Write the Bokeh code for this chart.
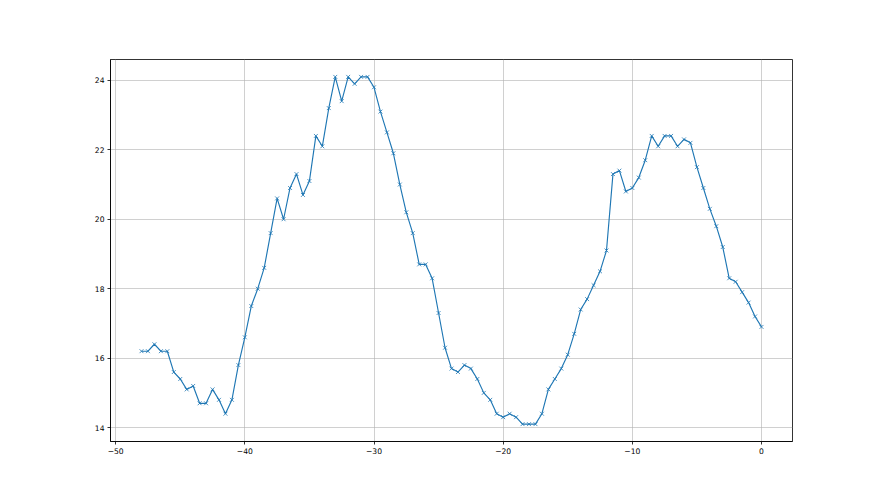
from bokeh.plotting import figure
from bokeh.models import FixedTicker, Range1d
from bokeh.embed import file_html
from bokeh.resources import INLINE

x_values = [-48.0, -47.5, -47.0, -46.5, -46.0, -45.5, -45.0, -44.5, -44.0, -43.5,
            -43.0, -42.5, -42.0, -41.5, -41.0, -40.5, -40.0, -39.5, -39.0, -38.5,
            -38.0, -37.5, -37.0, -36.5, -36.0, -35.5, -35.0, -34.5, -34.0, -33.5,
            -33.0, -32.5, -32.0, -31.5, -31.0, -30.5, -30.0, -29.5, -29.0, -28.5,
            -28.0, -27.5, -27.0, -26.5, -26.0, -25.5, -25.0, -24.5, -24.0, -23.5,
            -23.0, -22.5, -22.0, -21.5, -21.0, -20.5, -20.0, -19.5, -19.0, -18.5,
            -18.0, -17.5, -17.0, -16.5, -16.0, -15.5, -15.0, -14.5, -14.0, -13.5,
            -13.0, -12.5, -12.0, -11.5, -11.0, -10.5, -10.0, -9.5, -9.0, -8.5,
            -8.0, -7.5, -7.0, -6.5, -6.0, -5.5, -5.0, -4.5, -4.0, -3.5,
            -3.0, -2.5, -2.0, -1.5, -1.0, -0.5, 0.0]

y_values = [16.2, 16.2, 16.4, 16.2, 16.2, 15.6, 15.4, 15.1, 15.2, 14.7,
            14.7, 15.1, 14.8, 14.4, 14.8, 15.8, 16.6, 17.5, 18.0, 18.6,
            19.6, 20.6, 20.0, 20.9, 21.3, 20.7, 21.1, 22.4, 22.1, 23.2,
            24.1, 23.4, 24.1, 23.9, 24.1, 24.1, 23.8, 23.1, 22.5, 21.9,
            21.0, 20.2, 19.6, 18.7, 18.7, 18.3, 17.3, 16.3, 15.7, 15.6,
            15.8, 15.7, 15.4, 15.0, 14.8, 14.4, 14.3, 14.4, 14.3, 14.1,
            14.1, 14.1, 14.4, 15.1, 15.4, 15.7, 16.1, 16.7, 17.4, 17.7,
            18.1, 18.5, 19.1, 21.3, 21.4, 20.8, 20.9, 21.2, 21.7, 22.4,
            22.1, 22.4, 22.4, 22.1, 22.3, 22.2, 21.5, 20.9, 20.3, 19.8,
            19.2, 18.3, 18.2, 17.9, 17.6, 17.2, 16.9]

x_ticks = [-50, -40, -30, -20, -10, 0]
y_ticks = [14, 16, 18, 20, 22, 24]

color = "#1f77b4"

p = figure(width=880, height=495, output_backend="svg", toolbar_location=None,
           x_range=Range1d(-50.4, 2.4), y_range=Range1d(13.6, 24.6),
           min_border_left=110, min_border_right=88, min_border_top=59,
           min_border_bottom=54)

p.line(x_values, y_values, line_color=color, line_width=1.15)
p.scatter(x_values, y_values, marker="x", size=5.5, line_color=color, line_width=0.8)

p.xaxis.ticker = FixedTicker(ticks=x_ticks)
p.yaxis.ticker = FixedTicker(ticks=y_ticks)
p.xaxis.major_label_overrides = {t: (str(t).replace("-", "\u2212")) for t in x_ticks}
p.yaxis.major_label_overrides = {t: str(t) for t in y_ticks}

for ax in (p.xaxis, p.yaxis):
    ax.axis_line_color = "black"
    ax.axis_line_width = 0.8
    ax.major_tick_line_color = "black"
    ax.major_tick_line_width = 0.8
    ax.major_tick_out = 3
    ax.major_tick_in = 0
    ax.minor_tick_line_color = None
    ax.major_label_text_font = "DejaVu Sans"
    ax.major_label_text_font_size = "7.6px"
    ax.major_label_text_color = "black"
    ax.major_label_standoff = 3

p.grid.grid_line_color = "#b0b0b0"
p.grid.grid_line_width = 0.6
p.outline_line_color = "black"
p.outline_line_width = 0.8
p.outline_line_alpha = 1.0
p.background_fill_color = "white"
p.border_fill_color = "white"

open("out.html", "w").write(file_html(p, INLINE))
